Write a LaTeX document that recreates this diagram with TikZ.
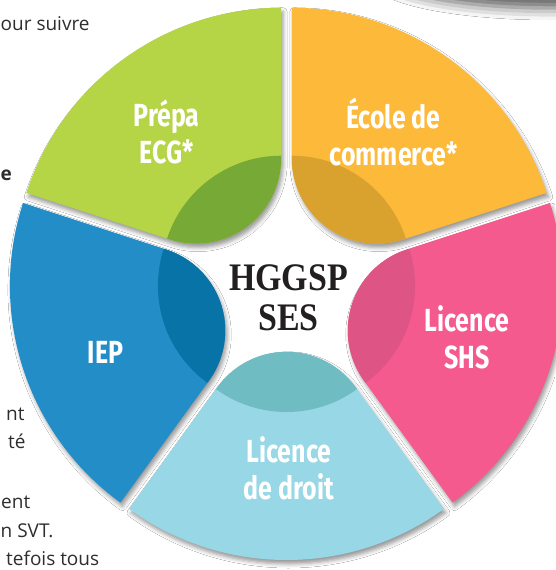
\documentclass[tikz,border=0pt]{standalone}
\usepackage{fontspec}
\usetikzlibrary{shadows.blur}
\newfontfamily\petalfont[FakeStretch=0.78]{Fira Sans}
\newfontfamily\corefont[FakeStretch=0.87]{Liberation Serif}
\newfontfamily\bodyfont{Open Sans}
\definecolor{greenlight}{HTML}{B5D446}
\definecolor{greendark}{HTML}{76A935}
\definecolor{orangelight}{HTML}{FDB93A}
\definecolor{orangedark}{HTML}{D9A22F}
\definecolor{pinklight}{HTML}{F45A8D}
\definecolor{pinkdark}{HTML}{DE5585}
\definecolor{skylight}{HTML}{98D7E6}
\definecolor{skydark}{HTML}{6FBCC3}
\definecolor{bluelight}{HTML}{238DC8}
\definecolor{bluedark}{HTML}{0873A7}
\definecolor{coreink}{HTML}{231F20}
\definecolor{bodyink}{HTML}{2E2E2E}
\tikzset{
  petal/.style={insert path={({#1-36}:117.3) -- ({#1-36}:268)
      arc[start angle=#1-36, end angle=#1+36, radius=268] -- ({#1+36}:117.3)
      arc[start angle=#1+126, end angle=#1+234, radius=85.2] -- cycle}},
  petalshadow/.style={blur shadow={shadow xshift=2pt, shadow yshift=-4pt,
      shadow blur radius=4pt, shadow opacity=40}},
  petaltext/.style={text=white, align=center, inner sep=0pt,
      font=\petalfont\bfseries\fontsize{32}{37}\selectfont},
  coretext/.style={text=coreink, align=center, inner sep=0pt,
      font=\corefont\bfseries\fontsize{39}{40}\selectfont},
  bodytext/.style={text=bodyink, inner sep=0pt, anchor=base west,
      font=\bodyfont\fontsize{19}{29}\selectfont}
}
\begin{document}
\begin{tikzpicture}[x=1pt, y=1pt]
      \useasboundingbox (0,-570) rectangle (555,0);
      \fill[white] (0,-570) rectangle (555,0);
      % shadow of the box above
      \fill[white, blur shadow={shadow yshift=-12pt, shadow blur radius=12pt, shadow opacity=65}] (548,40) ellipse (172 and 36);
      \begin{scope}[shift={(286.5,-283)}]
      \begin{scope}[shift={(126:9)}]
        \fill[greenlight, petalshadow, petal=126];
        \begin{scope} \clip[petal=126]; \fill[greendark] (0,0) circle (120); \end{scope}
      \end{scope}
      \begin{scope}[shift={(54:9)}]
        \fill[orangelight, petalshadow, petal=54];
        \begin{scope} \clip[petal=54]; \fill[orangedark] (0,0) circle (120); \end{scope}
      \end{scope}
      \begin{scope}[shift={(198:9)}]
        \fill[bluelight, petalshadow, petal=198];
        \begin{scope} \clip[petal=198]; \fill[bluedark] (0,0) circle (120); \end{scope}
      \end{scope}
      \begin{scope}[shift={(342:9)}]
        \fill[pinklight, petalshadow, petal=342];
        \begin{scope} \clip[petal=342]; \fill[pinkdark] (0,0) circle (120); \end{scope}
      \end{scope}
      \begin{scope}[shift={(270:9)}]
        \fill[skylight, petalshadow, petal=270];
        \begin{scope} \clip[petal=270]; \fill[skydark] (0,0) circle (120); \end{scope}
      \end{scope}
      \end{scope}
      \node[coretext] (core) at (288.5,-298) {HGGSP\\SES};
      \node[petaltext] (prepa) at (166.5,-131.5) {Prépa\\ECG*};
      \node[petaltext] (ecole) at (393.5,-132) {École de\\commerce*};
      \node[petaltext] (shs) at (467,-337) {Licence\\SHS};
      \node[petaltext, anchor=base] (iep) at (105.5,-363) {IEP};
      \node[petaltext] (droit) at (289,-468) {Licence\\de droit};
      % text of the page beside the diagram
      \node[bodytext] (suivre) at (0.5,-30) {our suivre};
      \node[bodytext, font=\bodyfont\bfseries\fontsize{19}{29}\selectfont] (lonee) at (0.5,-180) {e};
      \node[bodytext] (linent) at (6,-420) {nt};
      \node[bodytext] (linete) at (8,-448) {té};
      \node[bodytext] (lineent) at (1,-508) {ent};
      \node[bodytext] (linesvt) at (0.5,-537) {n SVT.};
      \node[bodytext] (linetous) at (6,-565) {tefois tous};
    \end{tikzpicture}
\end{document}
